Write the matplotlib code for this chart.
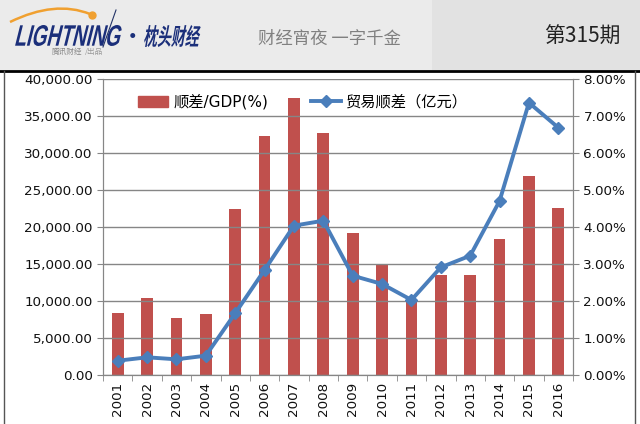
import numpy as np
import matplotlib.pyplot as plt
from matplotlib.lines import Line2D
from matplotlib.patches import Rectangle, PathPatch
from matplotlib.textpath import TextPath
from matplotlib.font_manager import FontProperties
from matplotlib.transforms import Affine2D
from matplotlib.path import Path

plt.rcParams['font.family'] = ['Noto Sans CJK SC', 'DejaVu Sans']

years = ['2001', '2002', '2003', '2004', '2005', '2006', '2007', '2008',
         '2009', '2010', '2011', '2012', '2013', '2014', '2015', '2016']
surplus_gdp = [1.68, 2.07, 1.53, 1.64, 4.48, 6.46, 7.49, 6.53,
               3.85, 3.00, 2.05, 2.70, 2.70, 3.67, 5.38, 4.52]  # %
trade_surplus = [1930, 2390, 2120, 2610, 8340, 14190, 20180, 20850,
                 13420, 12300, 10140, 14550, 16120, 23510, 36800, 33420]  # 亿元

bar_color = '#c0504d'
line_color = '#4a7ebb'
grid_color = '#868686'
logo_blue = '#1b2f7a'

W, H = 640, 424
fig = plt.figure(figsize=(6.4, 4.24), dpi=100)
fig.patch.set_facecolor('white')

# overlay in pixel units (y measured up from the bottom)
bg = fig.add_axes([0, 0, 1, 1])
bg.set_xlim(0, W)
bg.set_ylim(0, H)
bg.axis('off')


def px(y):
    return H - y


def stretched_text(s, x0, x1, y0, y1, prop, color, skew=0):
    tp = TextPath((0, 0), s, size=10, prop=prop)
    bb = tp.get_extents()
    tr = (Affine2D().translate(-bb.x0, -bb.y0)
          .scale((x1 - x0) / bb.width, (y1 - y0) / bb.height)
          .skew_deg(skew, 0)
          .translate(x0, px(y1)))
    bg.add_patch(PathPatch(tr.transform_path(tp), facecolor=color, lw=0))


# header band
bg.add_patch(Rectangle((0, px(70)), W, 70, facecolor='#ebebeb', edgecolor='none'))
bg.add_patch(Rectangle((432, px(70)), W - 432, 70, facecolor='#e2e2e2', edgecolor='none'))
bg.plot([0, W], [px(71)] * 2, color='black', lw=2)
bg.plot([4, 4], [0, px(71)], color='#555555', lw=1)
bg.plot([635, 635], [0, px(71)], color='#555555', lw=1)

# logo
arc = Path([(10, px(22)), (55, px(0)), (90, px(14))], [Path.MOVETO, Path.CURVE3, Path.CURVE3])
bg.add_patch(PathPatch(arc, facecolor='none', edgecolor='#f0a030', lw=1.8))
bg.plot([92], [px(15)], 'o', color='#f0a030', markersize=5)
stretched_text('LIGHTNING', 15, 118, 25, 46,
               FontProperties(family='Liberation Sans', weight='bold'), logo_blue, skew=14)
bg.plot([103, 116], [px(47), px(10)], color='#223366', lw=0.8)
bg.text(52, px(52), '腾讯财经', fontsize=5.5, color='#888888', va='center')
bg.text(85, px(52), '/出品', fontsize=5.5, color='#999999', va='center')
bg.text(133, px(37), '·', fontsize=14, color=logo_blue, va='center', ha='center', fontweight='bold')
stretched_text('枕头财经', 143, 198, 25, 47,
               FontProperties(family='Noto Sans CJK SC', weight='bold'), logo_blue, skew=10)
bg.text(258, px(39), '财经宵夜 一字千金', fontsize=12.5, color='#808080', va='center',
        style='italic')
bg.text(582, px(37), '第315期', fontsize=15, color='#222222', va='center', ha='center')

ax = fig.add_axes([103 / W, 1 - 375 / H, 470 / W, 296 / H])
ax2 = ax.twinx()

x = np.arange(len(years))

# bars on the right (percent) axis, line on the left axis
ax2.bar(x, surplus_gdp, width=0.4, color=bar_color, zorder=2)
ax2.set_ylim(0, 8)
ax2.set_yticks(np.arange(0, 9, 1))
ax2.set_yticklabels(['%.2f%%' % v for v in np.arange(0, 9, 1)])

ax.set_ylim(0, 40000)
ax.set_yticks(np.arange(0, 40001, 5000))
ax.set_yticklabels(['{:,.2f}'.format(v) for v in np.arange(0, 40001, 5000)])
ax.grid(axis='y', color=grid_color, lw=1)
ax.set_axisbelow(True)

ax.set_zorder(ax2.get_zorder() + 1)
ax.patch.set_visible(False)
ax.plot(x, trade_surplus, color=line_color, lw=2.8, marker='D', markersize=6.5, zorder=3)

ax.set_xlim(-0.5, len(years) - 0.5)
ax.set_xticks(x)
ax.set_xticklabels(years, rotation=90)
ax.set_xticks(np.arange(-0.5, len(years), 1), minor=True)
ax.tick_params(axis='x', which='major', length=0, pad=5)
ax.tick_params(axis='x', which='minor', length=4, color=grid_color)
ax.tick_params(axis='y', length=4, color=grid_color)
ax2.tick_params(axis='y', length=4, color=grid_color)

for a in (ax, ax2):
    a.tick_params(labelsize=9.7, labelcolor='#111111')
    for lab in a.get_xticklabels() + a.get_yticklabels():
        lab.set_family('DejaVu Sans')
    a.spines['top'].set_visible(False)
    for s in ('left', 'right', 'bottom'):
        a.spines[s].set_color(grid_color)

handles = [Rectangle((0, 0), 1, 1, color=bar_color),
           Line2D([], [], color=line_color, lw=2.8, marker='D', markersize=6.5)]
ax.legend(handles, ['顺差/GDP(%)', '贸易顺差（亿元）'], ncol=2, frameon=False,
          loc='upper left', bbox_to_anchor=(0.045, 0.995), columnspacing=2.8,
          handlelength=2.0, handletextpad=0.3,
          prop=FontProperties(family=['DejaVu Sans', 'Noto Sans CJK SC'], size=11))

fig.savefig('out.png', dpi=100)
